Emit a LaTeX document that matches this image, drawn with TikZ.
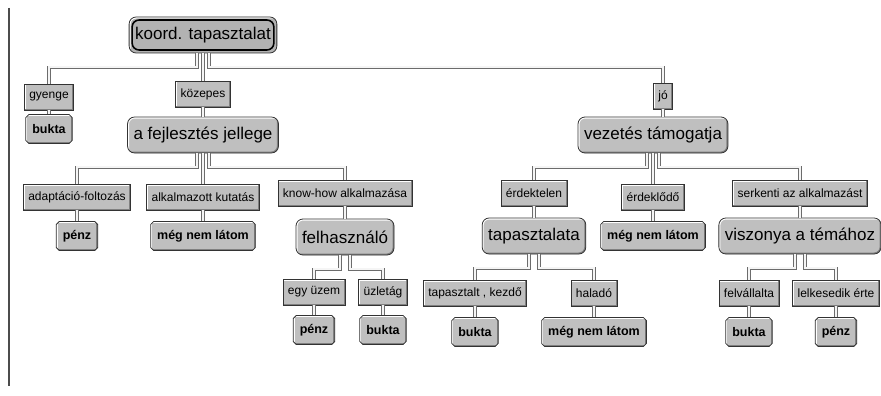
\documentclass[tikz,border=0pt]{standalone}
\usepackage{fontspec}
\setmainfont{Liberation Sans}
\usetikzlibrary{shapes.misc}

\begin{document}
\begin{tikzpicture}[x=1pt,y=-1pt,
 bev/.style={fill=gray!50,draw=black!80,line width=0.8pt,
  path picture={\draw[white,line width=3pt] (path picture bounding box.south west) -- (path picture bounding box.north west) -- (path picture bounding box.north east);
   \draw[black!50,line width=3pt] (path picture bounding box.south west) -- (path picture bounding box.south east) -- (path picture bounding box.north east);}},
 lab/.style={bev,font=\fontsize{12}{14}\selectfont,minimum height=26pt,inner xsep=5pt},
 att/.style={bev,rounded corners=7pt,font=\fontsize{17}{20}\selectfont,minimum height=36pt,inner xsep=6pt},
 leaf/.style={bev,chamfered rectangle,chamfered rectangle xsep=1.5pt,chamfered rectangle ysep=1.5pt,font=\bfseries\fontsize{12.5}{14}\selectfont,minimum height=29pt,inner xsep=5pt},
 rootn/.style={att,fill=gray!60,
  path picture={\draw[white,line width=3pt] (path picture bounding box.south west) -- (path picture bounding box.north west) -- (path picture bounding box.north east);
   \draw[black,line width=1.6pt] ([shift={(3pt,3pt)}]path picture bounding box.south west) rectangle ([shift={(-3pt,-3pt)}]path picture bounding box.north east);}},
 conn/.style={draw=gray!85!black,line width=0.7pt,double=gray!8,double distance=2pt}]
\useasboundingbox (0,0) rectangle (881,396);
\draw[black!70,line width=1.5pt] (9,8) -- (9,386);
% root and first split
\node[rootn] (root) at (203,35) {koord. tapasztalat};
\node[lab] (gy) at (49,97) {gyenge};
\node[lab] (koz) at (203,94) {közepes};
\node[lab] (jo) at (663,96) {jó};
\node[leaf] (bk1) at (49,129) {bukta};
\node[att] (fej) at (203,135) {a fejlesztés jellege};
\node[att] (vez) at (653,135) {vezetés támogatja};
% under fejlesztés
\node[lab] (adapt) at (77,197) {adaptáció-foltozás};
\node[lab] (alk) at (203,197) {alkalmazott kutatás};
\node[lab] (know) at (345,193) {know-how alkalmazása};
\node[leaf] (pz1) at (77,236) {pénz};
\node[leaf] (mn1) at (203,236) {még nem látom};
\node[att] (felh) at (345,237) {felhasználó};
\node[lab] (egy) at (314,292) {egy üzem};
\node[lab] (uzl) at (383,292) {üzletág};
\node[leaf] (pz2) at (314,330) {pénz};
\node[leaf] (bk2) at (383,330) {bukta};
% under vezetés
\node[lab] (erdt) at (534,193) {érdektelen};
\node[lab] (erdk) at (653,197) {érdeklődő};
\node[lab] (serk) at (800,193) {serkenti az alkalmazást};
\node[att] (tap) at (534,236) {tapasztalata};
\node[leaf] (mn2) at (653,236) {még nem látom};
\node[att] (visz) at (800,236) {viszonya a témához};
\node[lab] (tk) at (475,293) {tapasztalt , kezdő};
\node[lab] (hal) at (594,293) {haladó};
\node[leaf] (bk3) at (475,332) {bukta};
\node[leaf] (mn3) at (594,332) {még nem látom};
\node[lab] (felv) at (749,293) {felvállalta};
\node[lab] (lelk) at (836,293) {lelkesedik érte};
\node[leaf] (bk4) at (749,332) {bukta};
\node[leaf] (pz3) at (836,332) {pénz};
% branches
\foreach \p/\c/\s in {root/gy/-6,root/koz/0,root/jo/6,fej/adapt/-6,fej/alk/0,fej/know/6,felh/egy/-5,felh/uzl/5,vez/erdt/-6,vez/erdk/0,vez/serk/6,tap/tk/-5,tap/hal/5,visz/felv/-5,visz/lelk/5}
  \draw[conn] ([xshift=\s pt]\p.south) -- ++(0,14) -| (\c.north);
\foreach \a/\b in {gy/bk1,koz/fej,adapt/pz1,alk/mn1,know/felh,egy/pz2,uzl/bk2,erdt/tap,erdk/mn2,serk/visz,tk/bk3,hal/mn3,felv/bk4,lelk/pz3}
  \draw[conn] (\a) -- (\b);
\draw[conn] (jo.south) -- (jo.south |- vez.north);
\end{tikzpicture}
\end{document}
